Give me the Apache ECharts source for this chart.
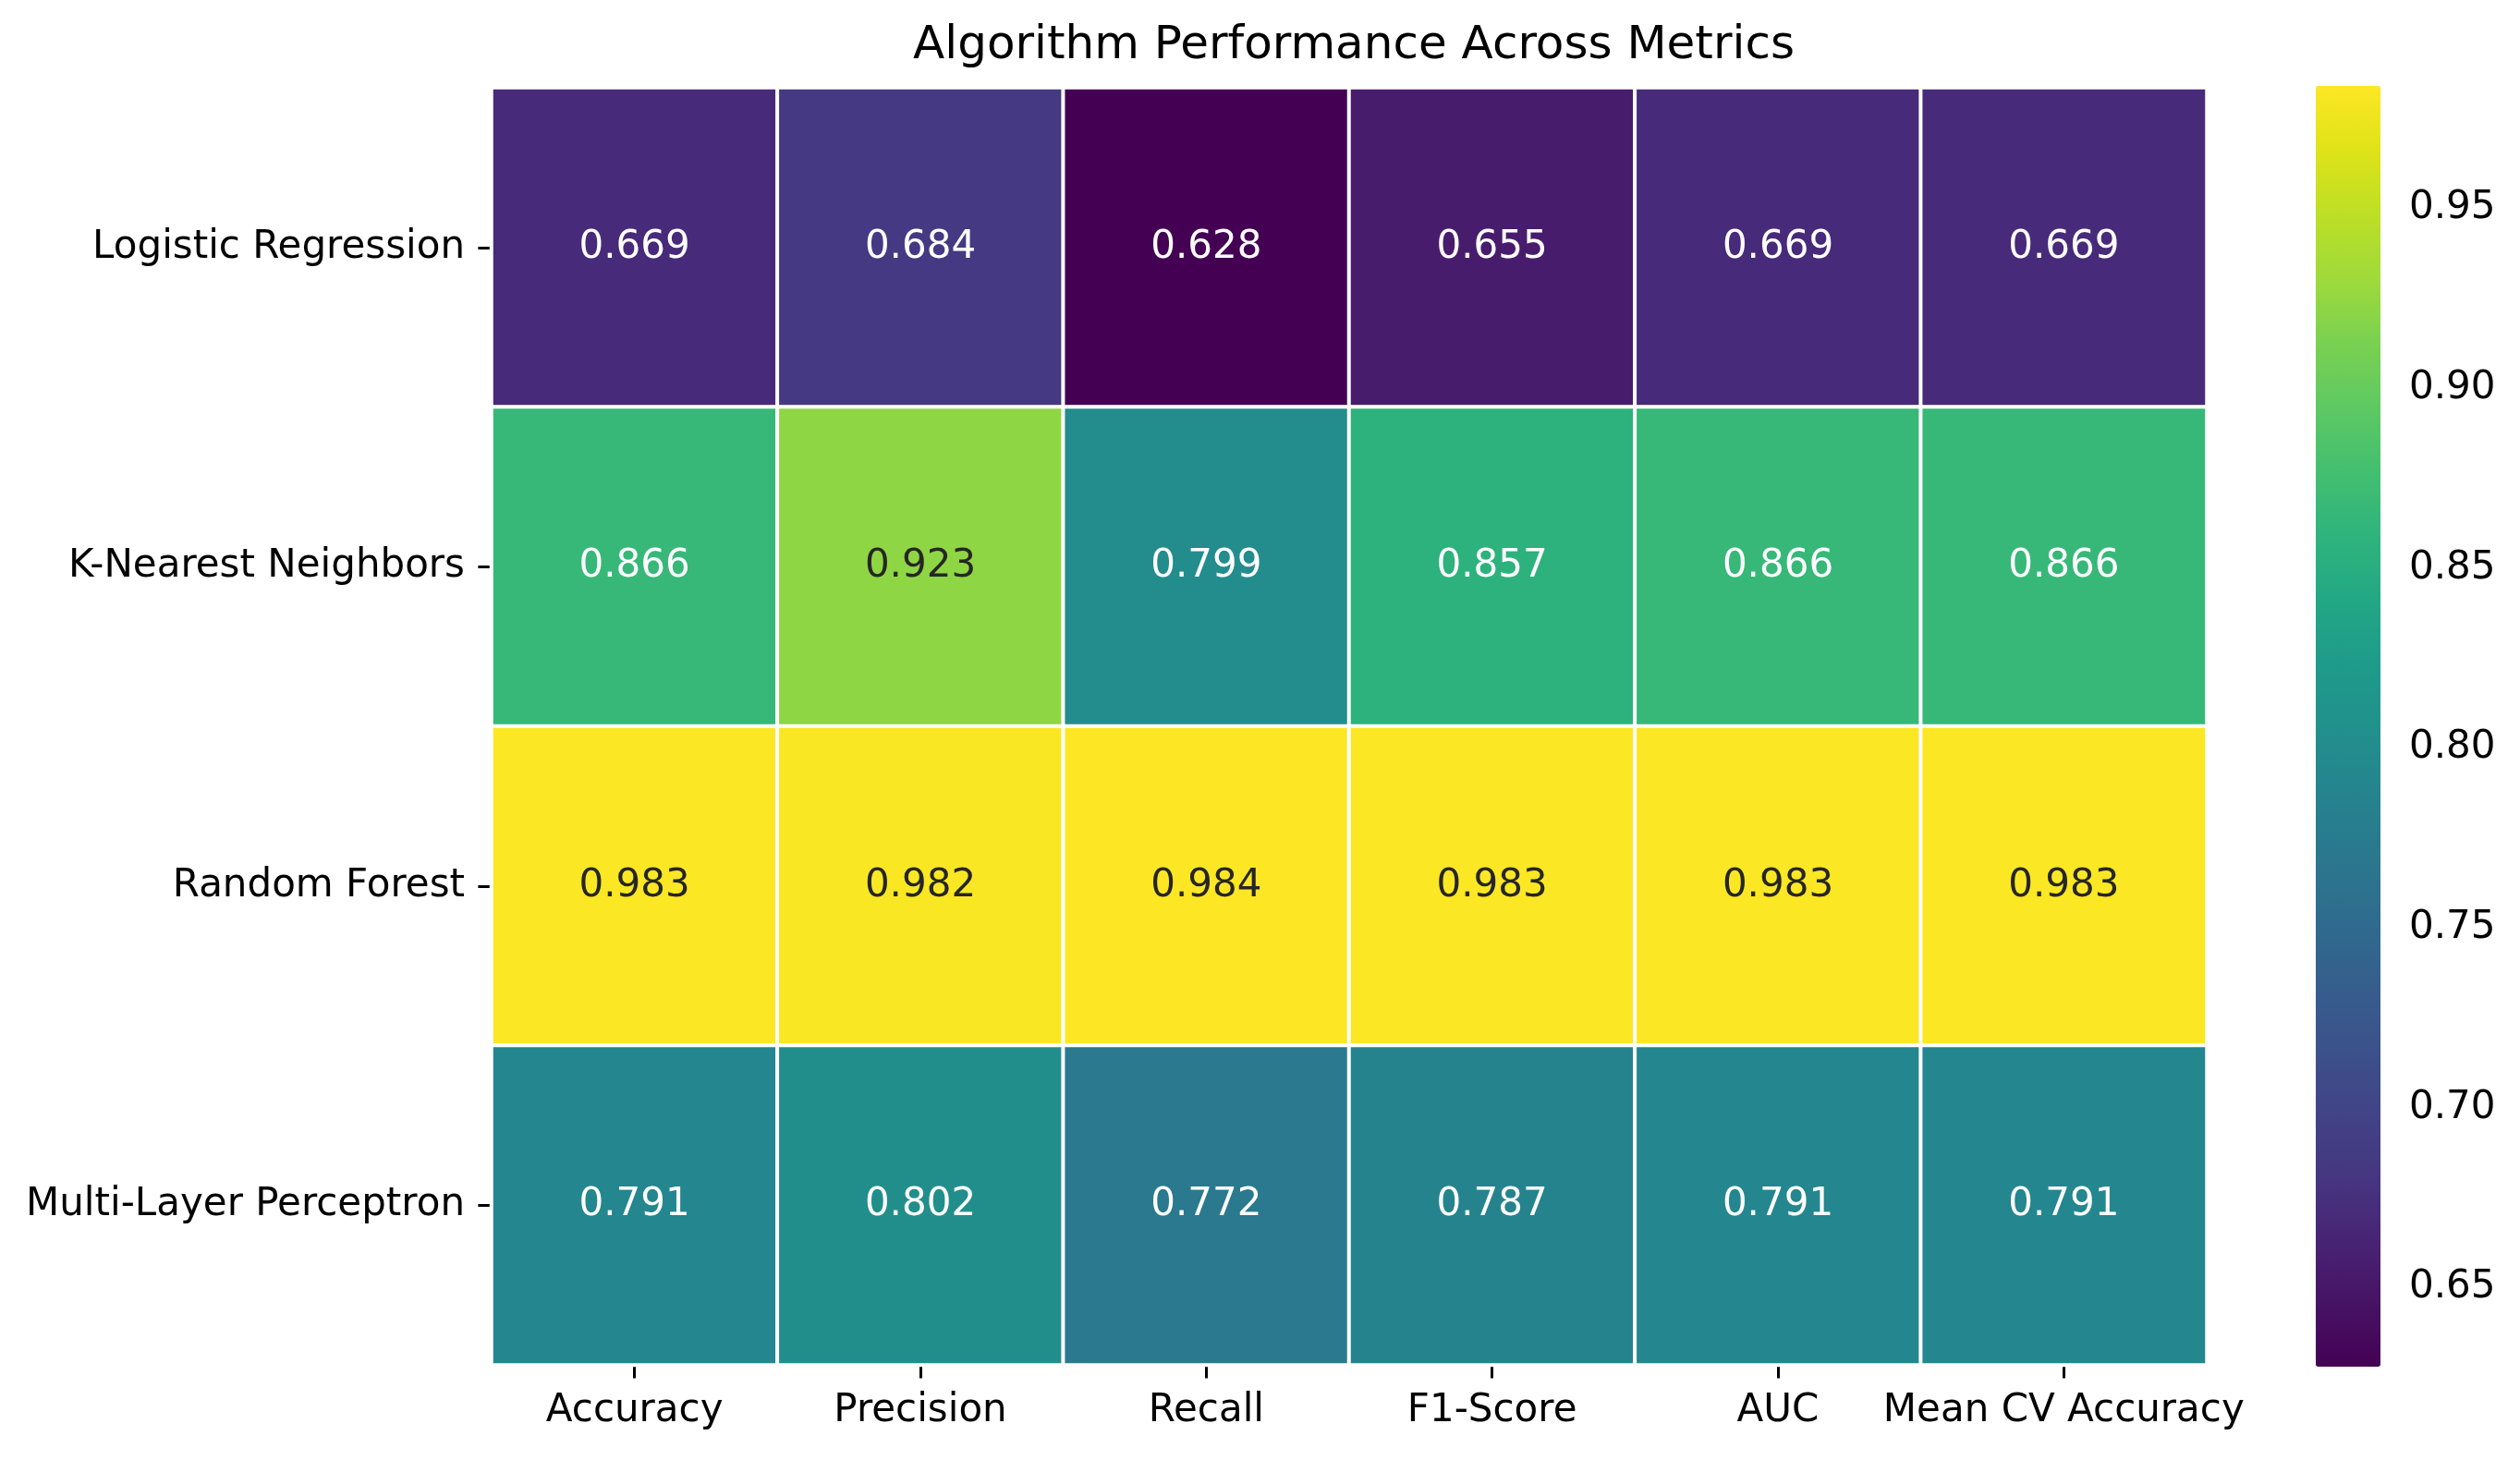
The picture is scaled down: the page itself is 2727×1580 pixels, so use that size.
<!DOCTYPE html>
<html>
<head>
<meta charset="utf-8">
<script src="https://cdn.jsdelivr.net/npm/echarts@6/dist/echarts.min.js"></script>
<style>
html,body{margin:0;padding:0;background:#fff;}
#chart{width:2727px;height:1580px;}
</style>
</head>
<body>
<div id="chart"></div>
<script>
const models = ['Logistic Regression', 'K-Nearest Neighbors', 'Random Forest', 'Multi-Layer Perceptron'];
const metrics = ['Accuracy', 'Precision', 'Recall', 'F1-Score', 'AUC', 'Mean CV Accuracy'];
const logisticRegression = [0.669, 0.684, 0.628, 0.655, 0.669, 0.669];
const kNearestNeighbors = [0.866, 0.923, 0.799, 0.857, 0.866, 0.866];
const randomForest = [0.983, 0.982, 0.984, 0.983, 0.983, 0.983];
const multiLayerPerceptron = [0.791, 0.802, 0.772, 0.787, 0.791, 0.791];
const colorbarTicks = [0.65, 0.70, 0.75, 0.80, 0.85, 0.90, 0.95];
const colorMin = 0.628;
const colorMax = 0.984;

const rows = [logisticRegression, kNearestNeighbors, randomForest, multiLayerPerceptron];
const viridis = ['#440154','#471365','#482475','#453781','#414487','#3b528b','#355f8d','#2f6c8e','#2a788e','#25848e','#21918c','#1e9b8a','#22a884','#2fb47c','#44bf70','#5ec962','#7ad151','#9fda3a','#bddf26','#dfe318','#fde725'];

const FONT = 'DejaVu Sans';
const heatData = [];
rows.forEach((vals, yi) => {
  vals.forEach((v, xi) => {
    heatData.push({
      value: [xi, yi, v],
      label: { color: v > 0.9 ? '#262626' : '#ffffff' }
    });
  });
});

const chart = echarts.init(document.getElementById('chart'), null, { renderer: 'canvas' });
chart.setOption({
  animation: false,
  backgroundColor: '#ffffff',
  title: {
    text: 'Algorithm Performance Across Metrics',
    left: 1460,
    textAlign: 'center',
    top: 20,
    textStyle: { fontFamily: FONT, fontSize: 50, fontWeight: 'normal', color: '#000' }
  },
  grid: [
    { left: 532, top: 95, width: 1856, height: 1382 },
    { left: 2506, top: 93, width: 70, height: 1386 }
  ],
  xAxis: [
    {
      gridIndex: 0,
      type: 'category',
      data: metrics,
      axisLine: { show: false },
      axisTick: { show: true, alignWithLabel: true, length: 14.6, lineStyle: { color: '#000', width: 3 } },
      axisLabel: { margin: 29, fontFamily: FONT, fontSize: 42, color: '#000', interval: 0 },
      splitLine: { show: false }
    },
    { gridIndex: 1, type: 'value', show: false }
  ],
  yAxis: [
    {
      gridIndex: 0,
      type: 'category',
      data: models,
      inverse: true,
      axisLine: { show: false },
      axisTick: { show: true, alignWithLabel: true, length: 14.6, lineStyle: { color: '#000', width: 3 } },
      axisLabel: { margin: 29, fontFamily: FONT, fontSize: 42, color: '#000', interval: 0 },
      splitLine: { show: false }
    },
    {
      gridIndex: 1,
      type: 'value',
      position: 'right',
      min: colorMin,
      max: colorMax,
      axisLine: { show: false },
      splitLine: { show: false },
      axisTick: { show: true, customValues: colorbarTicks, length: 14.6, lineStyle: { color: '#000', width: 3 } },
      axisLabel: { customValues: colorbarTicks, margin: 31, fontFamily: FONT, fontSize: 42, color: '#000', formatter: v => v.toFixed(2) }
    }
  ],
  visualMap: {
    type: 'continuous',
    seriesIndex: 0,
    min: colorMin,
    max: colorMax,
    calculable: false,
    left: 2506,
    top: 93,
    itemWidth: 70,
    itemHeight: 1386,
    padding: 0,
    inRange: { color: viridis },
    textStyle: { color: 'transparent' }
  },
  series: [
    {
      type: 'heatmap',
      xAxisIndex: 0,
      yAxisIndex: 0,
      data: heatData,
      itemStyle: { borderColor: '#ffffff', borderWidth: 4 },
      label: {
        show: true,
        fontFamily: FONT,
        fontSize: 42,
        formatter: p => p.value[2].toFixed(3)
      },
      emphasis: { disabled: true }
    }
  ]
});
</script>
</body>
</html>
